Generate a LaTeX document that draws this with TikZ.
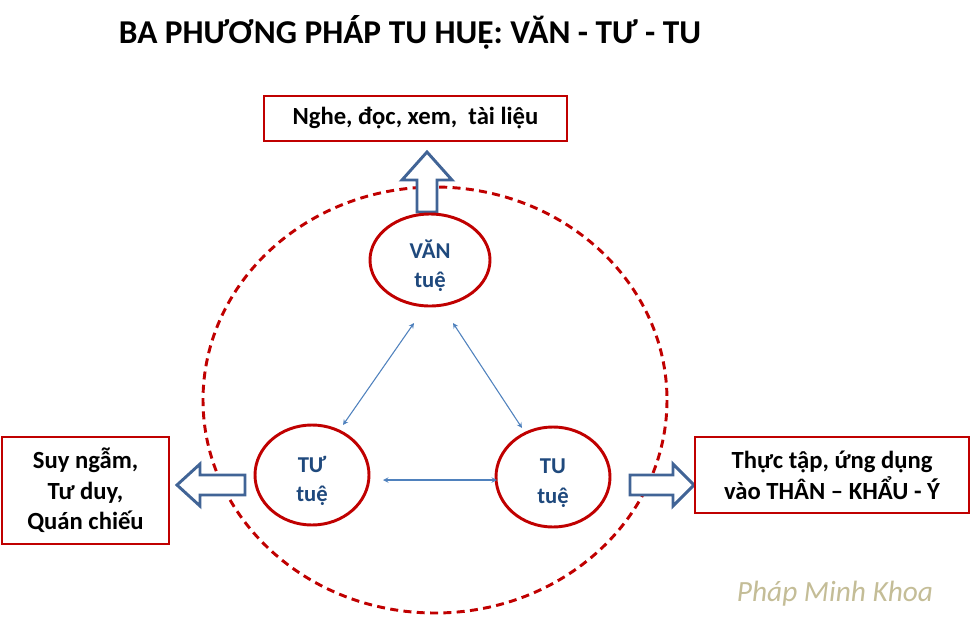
\documentclass[tikz,border=0pt]{standalone}
\usepackage{fontspec}
\setmainfont{Carlito}
\definecolor{dred}{RGB}{192,0,0}
\definecolor{ablue}{RGB}{65,100,150}
\definecolor{tblue}{RGB}{79,129,189}
\definecolor{eblue}{RGB}{31,73,125}
\definecolor{wm}{RGB}{196,189,151}
\begin{document}
\begin{tikzpicture}[x=0.75pt,y=-0.75pt,
  ell/.style={draw=dred,line width=2.2pt,fill=white},
  etxt/.style={text=eblue,font=\bfseries\fontsize{17}{22}\selectfont,align=center},
  box/.style={draw=dred,line width=1pt,fill=white,font=\bfseries\fontsize{18.5}{23}\selectfont,align=center},
  thin/.style={<->,>=stealth,draw=tblue,line width=0.8pt},
  blk/.style={draw=ablue,line width=2.2pt,fill=white,line join=miter}]
\useasboundingbox (0,0) rectangle (971,629);
\node[font=\bfseries\fontsize{25}{30}\selectfont] (title) at (410,32) {BA PHƯƠNG PHÁP TU HUỆ: VĂN - TƯ - TU};
\draw[dred,line width=2.2pt,dash pattern=on 6pt off 4pt] (435,400) ellipse [x radius=232, y radius=213];
% block arrows
\draw[blk] (417,212)--(417,180)--(402,180)--(427,152)--(452,180)--(437,180)--(437,212)--cycle;
\draw[blk] (245,475)--(200,475)--(200,464)--(177,485)--(200,506)--(200,495)--(245,495)--cycle;
\draw[blk] (630,475)--(673,475)--(673,464)--(694,485)--(673,506)--(673,495)--(630,495)--cycle;
\draw[ell] (430,260) ellipse [x radius=60, y radius=46];
\draw[ell] (312,475) ellipse [x radius=57, y radius=50];
\draw[ell] (553,477) ellipse [x radius=57, y radius=50];
\node[etxt] (van) at (430,266) {VĂN\\tuệ};
\node[etxt] (tu1) at (312,481) {TƯ\\tuệ};
\node[etxt] (tu2) at (553,483) {TU\\tuệ};
\coordinate (a1) at (414,323); \coordinate (a2) at (343,425);
\coordinate (b1) at (453,323); \coordinate (b2) at (522,428);
\coordinate (c1) at (383,480); \coordinate (c2) at (497,480);
\draw[thin] (a1)--(a2);
\draw[thin] (b1)--(b2);
\draw[thin] (c1)--(c2);
\node[box,minimum width=303*0.75pt,minimum height=45*0.75pt] (top) at (415.5,118.5) {Nghe, đọc, xem,\ \ tài liệu};
\node[box,minimum width=167*0.75pt,minimum height=107*0.75pt] (left) at (85.5,490.5) {Suy ngẫm,\\Tư duy,\\Quán chiếu};
\node[box,minimum width=274*0.75pt,minimum height=76*0.75pt] (right) at (832,475) {Thực tập, ứng dụng\\vào THÂN – KHẨU - Ý};
\node[text=wm,font=\itshape\fontsize{22}{26}\selectfont] (wmk) at (835,594) {Pháp Minh Khoa};
\end{tikzpicture}
\end{document}
